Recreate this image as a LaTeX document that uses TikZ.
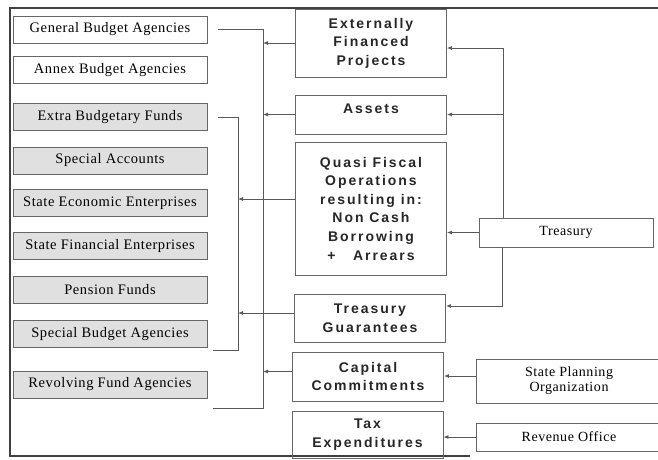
\documentclass[tikz,border=0pt]{standalone}
\usepackage{fontspec}
\setmainfont{Liberation Serif}
\newfontfamily\unitfont[LetterSpace=4]{Liberation Serif}
\newfontfamily\itemfont[LetterSpace=14]{Liberation Sans}
\usetikzlibrary{arrows.meta,positioning}

\begin{document}
\begin{tikzpicture}[x=1pt,y=-1pt,
  unit/.style={draw=black!60,line width=0.9pt,minimum width=194pt,minimum height=27pt,inner sep=0pt,font=\unitfont\fontsize{14.5}{15}\selectfont,text=black},
  offunit/.style={unit,fill=black!12},
  item/.style={draw=black!60,line width=0.9pt,minimum width=151pt,inner sep=0pt,align=center,font=\itemfont\bfseries\fontsize{14}{18.6}\selectfont,text=black!85},
  source/.style={draw=black!60,line width=0.9pt,inner sep=0pt,align=center,font=\unitfont\fontsize{14}{15}\selectfont,text=black},
  rail/.style={black!65,line width=0.8pt},
  link/.style={rail,-{Latex[length=5pt,width=4pt]}}]
\useasboundingbox (0,0) rectangle (658,459);
% frame
\draw[black!75,line width=1.2pt] (658,8) -- (10,8) -- (10,456) -- (470,456);
% budget units
\node[unit] (gba) at (110,29.5) {General Budget Agencies};
\node[unit] (aba) at (110,70) {Annex Budget Agencies};
\node[offunit] (ebf) at (110,117) {Extra Budgetary Funds};
\node[offunit] (sa) at (110,160.5) {Special Accounts};
\node[offunit] (see) at (110,203) {State Economic Enterprises};
\node[offunit] (sfe) at (110,246) {State Financial Enterprises};
\node[offunit] (pf) at (110,290) {Pension Funds};
\node[offunit] (sba) at (110,334) {Special Budget Agencies};
\node[offunit] (rfa) at (110,384.5) {Revolving Fund Agencies};
% fiscal items
\node[item,minimum height=68pt] (efp) at (371,43) {Externally\\Financed\\Projects};
\node[item,minimum height=39pt,text depth=12pt] (ast) at (371,114.5) {Assets};
\node[item,minimum height=133pt] (qfo) at (371,208.5) {Quasi Fiscal\\Operations\\resulting in:\\Non Cash\\Borrowing\\+~~~Arrears};
\node[item,minimum height=48pt] (tg) at (370,318) {Treasury\\Guarantees};
\node[item,minimum height=49pt] (cc) at (368,376.5) {Capital\\Commitments};
\node[item,minimum height=47pt] (te) at (367.5,434.5) {Tax\\Expenditures};
% sources
\node[source,minimum width=174pt,minimum height=29pt] (try) at (566,232.5) {Treasury};
\node[source,minimum width=186pt,minimum height=44pt] (spo) at (569,381) {State Planning\\Organization};
\node[source,minimum width=186pt,minimum height=28pt] (rvo) at (569,437) {Revenue Office};
% brackets
\coordinate (outerBot) at (263,408);
\coordinate (innerBot) at (238,350);
\draw[rail] ([xshift=11pt]gba.east) -- (gba.east -| outerBot) -- (outerBot) -- ([xshift=6pt]outerBot -| rfa.east);
\draw[rail] ([xshift=11pt]ebf.east) -- (ebf.east -| innerBot) -- (innerBot) -- ([xshift=6pt]innerBot -| sba.east);
% items to units
\draw[link] (efp.west) -- (efp.west -| outerBot);
\draw[link] (ast.west) -- (ast.west -| outerBot);
\draw[link] ([yshift=9.5pt]qfo.west) -- ([yshift=9.5pt]qfo.west -| innerBot);
\draw[link] ([yshift=5pt]tg.west) -- ([yshift=5pt]tg.west -| innerBot);
\draw[link] ([yshift=5pt]cc.west) -- ([yshift=5pt]cc.west -| outerBot);
% sources to items
\coordinate (trTop) at (503,48);
\coordinate (trBot) at (502,306);
\draw[link] (try.north -| trTop) -- (trTop) -- (trTop -| efp.east);
\draw[link] (trTop |- ast.east) -- (ast.east);
\draw[link] (try.west) -- (try.west -| qfo.east);
\draw[link] (try.south -| trBot) -- (trBot) -- (trBot -| tg.east);
\draw[link] ([yshift=5pt]spo.west) -- ([yshift=5pt]spo.west -| cc.east);
\draw[link] (rvo.west) -- (rvo.west -| te.east);
\end{tikzpicture}
\end{document}
